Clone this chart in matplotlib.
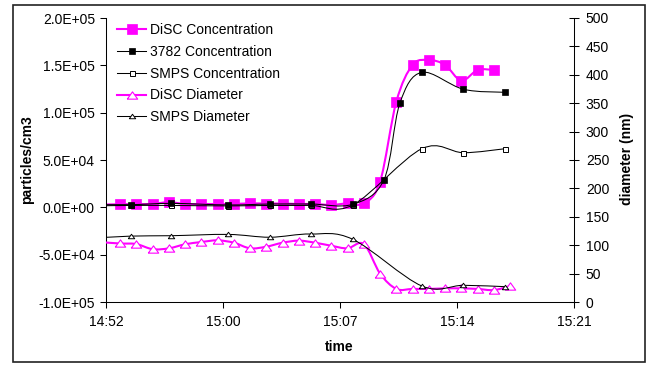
import matplotlib
matplotlib.use("Agg")
import matplotlib.pyplot as plt
import numpy as np
from matplotlib.path import Path
from matplotlib.patches import PathPatch, Rectangle
from matplotlib.lines import Line2D
from matplotlib.ticker import FuncFormatter, FixedLocator, MultipleLocator

plt.rcParams.update({"font.family": "Liberation Sans", "font.size": 10})

magenta = "#FF00FF"

# DiSC logs once a minute (first entry sits just left of the axis start)
disc_time = ["14:52:40", "14:53:40", "14:54:40", "14:55:40", "14:56:40", "14:57:40",
             "14:58:40", "14:59:40", "15:00:40", "15:01:40", "15:02:40", "15:03:40",
             "15:04:40", "15:05:40", "15:06:40", "15:07:40", "15:08:40", "15:09:40",
             "15:10:40", "15:11:40", "15:12:40", "15:13:40", "15:14:40", "15:15:40",
             "15:16:40", "15:17:40"]
disc_conc = [3000, 3200, 3500, 3500, 5500, 3500, 3500, 3500, 3500, 4200, 4000, 4000,
             3500, 3500, 2500, 4200, 4200, 27100, 111600, 150400, 155600, 150400,
             133800, 145100, 145100]
disc_diam = [105, 103, 102, 93, 94.5, 101.6, 105.6, 108.6, 104.4, 94.5, 97.4, 104.4,
             108, 104.4, 99, 94.5, 102, 50, 23, 23, 23, 24, 24, 23, 21, 28]

cpc_time = ["14:51:48", "14:54:19", "14:56:48", "15:00:20", "15:02:53", "15:05:24",
            "15:07:59", "15:09:54", "15:10:53", "15:12:14", "15:14:48", "15:17:21"]
cpc_conc = [3000, 2800, 4200, 2500, 3500, 3500, 3200, 28900, 109900, 142600, 124700, 121500]

smps_time = ["14:51:48", "14:54:19", "14:56:48", "15:00:20", "15:02:53", "15:05:24",
             "15:07:59", "15:12:14", "15:14:48", "15:17:21"]
smps_conc = [1500, 2000, 2000, 1500, 2000, 2000, 2500, 61900, 57700, 61900]
smps_diam = [112, 116, 116.7, 119, 114, 119.7, 110.4, 28.2, 29.4, 27]

x_ticks = [892.8, 900.0, 907.2, 914.4, 921.6]


def to_min(stamps):
    out = []
    for t in stamps:
        h, m, s = t.split(":")
        out.append(int(h) * 60 + int(m) + int(s) / 60)
    return np.array(out)


def smooth(ax, x, y, color, lw, z):
    # excel style smoothed line, cubic bezier through every point
    pts = np.column_stack([x, y]).astype(float)
    n = len(pts)
    verts = [pts[0]]
    codes = [Path.MOVETO]
    for i in range(n - 1):
        p0 = pts[max(i - 1, 0)]
        p1 = pts[i]
        p2 = pts[i + 1]
        p3 = pts[min(i + 2, n - 1)]
        verts += [p1 + (p2 - p0) / 6, p2 - (p3 - p1) / 6, p2]
        codes += [Path.CURVE4] * 3
    ax.add_patch(PathPatch(Path(verts, codes), facecolor="none",
                           edgecolor=color, lw=lw, zorder=z))


tri = [(-1, -0.7), (1, -0.7), (0, 0.7), (-1, -0.7)]

fig = plt.figure(figsize=(6.5, 3.65), dpi=100)
fig.patches.append(Rectangle((13 / 650, 3 / 365), 632 / 650, 357 / 365,
                             transform=fig.transFigure, fill=False,
                             edgecolor="#222222", lw=1.2))
ax = fig.add_axes([106 / 650, 63 / 365, 468 / 650, 284 / 365])
ax2 = ax.twinx()

t_disc = to_min(disc_time)
t_cpc = to_min(cpc_time)
t_smps = to_min(smps_time)

styles = {
    "disc_conc": dict(color=magenta, lw=1.5, marker="s", ms=6.8, mfc=magenta, mec=magenta, mew=0.5),
    "cpc_conc": dict(color="black", lw=0.75, marker="s", ms=4.2, mfc="black", mec="black", mew=0.5),
    "smps_conc": dict(color="black", lw=0.75, marker="s", ms=3.6, mfc="white", mec="black", mew=0.7),
    "disc_diam": dict(color=magenta, lw=1.5, marker=tri, ms=7.5, mfc="white", mec=magenta, mew=0.8),
    "smps_diam": dict(color="black", lw=0.75, marker=tri, ms=4.6, mfc="white", mec="black", mew=0.7),
}

# (axis, times, values, style, label, zorder)
series = [
    (ax, t_disc[:len(disc_conc)], disc_conc, "disc_conc", "DiSC Concentration", 2),
    (ax, t_cpc, cpc_conc, "cpc_conc", "3782 Concentration", 4),
    (ax, t_smps, smps_conc, "smps_conc", "SMPS Concentration", 3),
    (ax2, t_disc, disc_diam, "disc_diam", "DiSC Diameter", 2),
    (ax2, t_smps, smps_diam, "smps_diam", "SMPS Diameter", 3),
]

handles = []
for a, t, v, key, label, z in series:
    st = styles[key]
    smooth(a, t, v, st["color"], st["lw"], z)
    a.plot(t[1:], v[1:], linestyle="none", marker=st["marker"], ms=st["ms"],
           mfc=st["mfc"], mec=st["mec"], mew=st["mew"], zorder=z + 0.5)
    handles.append(Line2D([], [], label=label, **st))

ax.set_xlim(x_ticks[0], x_ticks[-1])
ax.set_ylim(-1.0e5, 2.0e5)
ax2.set_ylim(0, 500)

ax.xaxis.set_major_locator(FixedLocator(x_ticks))
ax.xaxis.set_major_formatter(FuncFormatter(
    lambda m, p: "%d:%02d" % (int((m + 1e-6) // 60), int((m + 1e-6) % 60))))
ax.yaxis.set_major_locator(MultipleLocator(5.0e4))
ax.yaxis.set_major_formatter(FuncFormatter(lambda v, p: "%.1E" % v))
ax2.yaxis.set_major_locator(MultipleLocator(50))

for s in ["top", "right"]:
    ax.spines[s].set_visible(False)
for s in ["top", "left", "bottom"]:
    ax2.spines[s].set_visible(False)
for s in [ax.spines["left"], ax.spines["bottom"], ax2.spines["right"]]:
    s.set_linewidth(0.75)

ax.tick_params(axis="y", direction="out", length=4.5, width=0.75, pad=3.5)
ax.tick_params(axis="x", direction="out", length=4, width=0.75, pad=5)
ax2.tick_params(axis="y", direction="inout", length=6.5, width=0.75, pad=5.3)

fig.text(27 / 650, 1 - 160 / 365, "particles/cm3", rotation=90, ha="center",
         va="center", fontweight="bold")
fig.text(627 / 650, 1 - 159 / 365, "diameter (nm)", rotation=90, ha="center",
         va="center", fontweight="bold")
fig.text(339 / 650, 1 - 347 / 365, "time", ha="center", va="center",
         fontweight="bold")

ax2.legend(handles=handles, loc="upper left", bbox_to_anchor=(0.024, 0.982),
           frameon=False, borderaxespad=0, borderpad=0, labelspacing=0.56,
           handlelength=2.1, handletextpad=0.25)

plt.savefig("out.png", dpi=100)
